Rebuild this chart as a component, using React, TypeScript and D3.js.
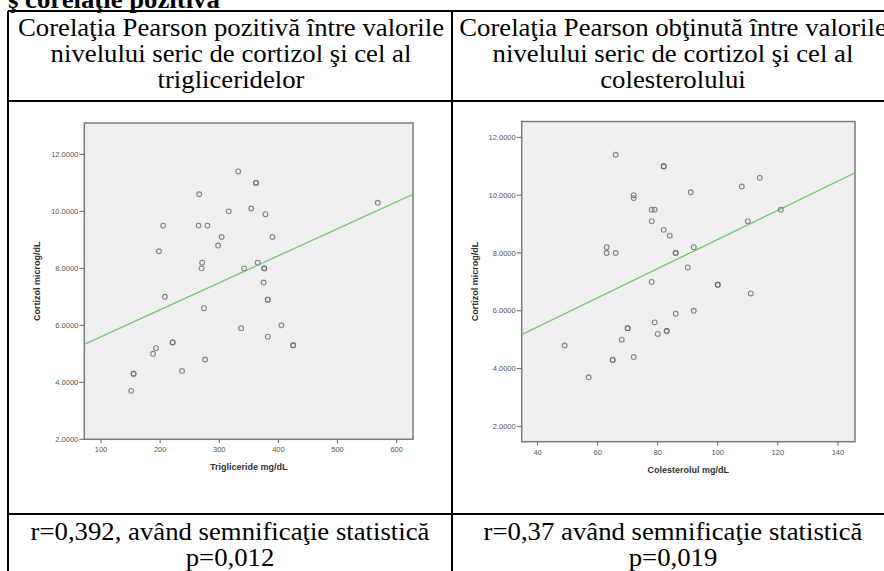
import React from "react";
import { scaleLinear, line } from "d3";

// Trigliceride (mg/dL) vs Cortizol (microg/dL)
const trigX = [332, 362, 362, 266, 316, 354, 378, 205, 265, 280, 304, 390, 298, 198, 271, 270, 342, 365, 376, 376, 375, 208, 382, 382, 274, 337, 405, 382, 425, 425, 221, 221, 193, 188, 276, 237, 155, 155, 151, 568];
const trigY = [11.4, 11.0, 11.0, 10.6, 10.0, 10.1, 9.9, 9.5, 9.5, 9.5, 9.1, 9.1, 8.8, 8.6, 8.2, 8.0, 8.0, 8.2, 8.0, 8.0, 7.5, 7.0, 6.9, 6.9, 6.6, 5.9, 6.0, 5.6, 5.3, 5.3, 5.4, 5.4, 5.2, 5.0, 4.8, 4.4, 4.3, 4.3, 3.7, 10.3];

// Colesterolul (mg/dL) vs Cortizol (microg/dL)
const colX = [66, 82, 82, 114, 108, 91, 72, 72, 78, 79, 121, 78, 110, 82, 84, 63, 63, 66, 86, 86, 92, 90, 78, 100, 100, 111, 86, 92, 79, 70, 70, 80, 83, 83, 68, 49, 65, 65, 72, 57];
const colY = [11.4, 11.0, 11.0, 10.6, 10.3, 10.1, 10.0, 9.9, 9.5, 9.5, 9.5, 9.1, 9.1, 8.8, 8.6, 8.2, 8.0, 8.0, 8.0, 8.0, 8.2, 7.5, 7.0, 6.9, 6.9, 6.6, 5.9, 6.0, 5.6, 5.4, 5.4, 5.2, 5.3, 5.3, 5.0, 4.8, 4.3, 4.3, 4.4, 3.7];

const yTicks = [2, 4, 6, 8, 10, 12];
const trigTicks = [100, 200, 300, 400, 500, 600];
const colTicks = [40, 60, 80, 100, 120, 140];

// linear fit lines
const trigFit = [4.65, 0.00948];
const colFit = [3.42, 0.0505];

const headerLeft = ["Corelaţia Pearson pozitivă între valorile", "nivelului seric de cortizol şi cel al", "trigliceridelor"];
const headerRight = ["Corelaţia Pearson obţinută între valorile", "nivelului seric de cortizol şi cel al", "colesterolului"];
const footLeft = ["r=0,392, având semnificaţie statistică", "p=0,012"];
const footRight = ["r=0,37 având semnificaţie statistică", "p=0,019"];

const serif = "'Liberation Serif', 'Times New Roman', serif";
const sans = "'Liberation Sans', Arial, sans-serif";

type PlotProps = {
  left: number; right: number; top: number; bottom: number;
  xDomain: number[]; yDomain: number[];
  xTicks: number[]; xs: number[]; ys: number[];
  fit: number[]; xLabel: string; yLabelX: number; xLabelY: number;
};

const Plot = (p: PlotProps) => {
  const x = scaleLinear().domain(p.xDomain).range([p.left, p.right]);
  const y = scaleLinear().domain(p.yDomain).range([p.bottom, p.top]);
  const fitLine = line<number>().x(d => x(d)).y(d => y(p.fit[0] + p.fit[1] * d));
  const clipId = "clip" + Math.round(p.left);
  return (
    <g>
      <defs>
        <clipPath id={clipId}>
          <rect x={p.left} y={p.top} width={p.right - p.left} height={p.bottom - p.top} />
        </clipPath>
      </defs>
      <rect x={p.left} y={p.top} width={p.right - p.left} height={p.bottom - p.top} fill="#efefef" stroke="#7a7a7a" strokeWidth={1.5} />
      {yTicks.map(t => (
        <g key={"y" + t}>
          <line x1={p.left - 5} x2={p.left} y1={y(t)} y2={y(t)} stroke="#666" strokeWidth={1} />
          <text x={p.left - 6} y={y(t)} dy="0.35em" textAnchor="end" fontSize={7.5} fill="#555" fontFamily={sans}>{t.toFixed(4)}</text>
        </g>
      ))}
      {p.xTicks.map(t => (
        <g key={"x" + t}>
          <line x1={x(t)} x2={x(t)} y1={p.bottom} y2={p.bottom + 4} stroke="#666" strokeWidth={1} />
          <text x={x(t)} y={p.bottom + 13} textAnchor="middle" fontSize={7.5} fill="#555" fontFamily={sans}>{t}</text>
        </g>
      ))}
      <path d={fitLine(p.xDomain) || ""} stroke="#76c776" strokeWidth={1.3} fill="none" clipPath={`url(#${clipId})`} />
      {p.xs.map((v, i) => (
        <circle key={i} cx={x(v)} cy={y(p.ys[i])} r={2.4} fill="none" stroke="#6a6a6a" strokeOpacity={0.8} strokeWidth={1.1} />
      ))}
      <text x={(p.left + p.right) / 2} y={p.xLabelY} textAnchor="middle" fontSize={9} fontWeight="bold" fill="#333" fontFamily={sans}>{p.xLabel}</text>
      <text transform={`translate(${p.yLabelX},${(p.top + p.bottom) / 2}) rotate(-90)`} textAnchor="middle" dy="0.35em" fontSize={9} fontWeight="bold" fill="#333" fontFamily={sans}>Cortizol microg/dL</text>
    </g>
  );
};

const Cell = ({ lines, cx, y0, step }: { lines: string[]; cx: number; y0: number; step: number }) => (
  <g>
    {lines.map((s, i) => (
      <text key={i} transform={`translate(${cx},${y0 + i * step}) scale(1.07,1)`} textAnchor="middle" fontSize={25} fill="#000" fontFamily={serif}>{s}</text>
    ))}
  </g>
);

const App = () => {
  return (
    <svg width={884} height={571} style={{ position: "absolute", left: 0, top: 0, background: "#fff" }}>
      <text transform="translate(8,8) scale(1.07,1)" fontSize={25} fontWeight="bold" fontFamily={serif}>ş corelaţie pozitivă</text>

      {/* table grid */}
      <g stroke="#000" strokeWidth={2}>
        <line x1={8} x2={884} y1={11} y2={11} />
        <line x1={8} x2={884} y1={101} y2={101} />
        <line x1={8} x2={884} y1={514} y2={514} />
        <line x1={8} x2={8} y1={11} y2={571} />
        <line x1={452} x2={452} y1={11} y2={571} />
      </g>

      <Cell lines={headerLeft} cx={231} y0={36} step={26} />
      <Cell lines={headerRight} cx={673} y0={36} step={26} />
      <Cell lines={footLeft} cx={230} y0={540} step={26} />
      <Cell lines={footRight} cx={673} y0={540} step={26} />

      <Plot left={84.3} right={413} top={123} bottom={439.3}
        xDomain={[71.7, 627.6]} yDomain={[2, 13.1]} xTicks={trigTicks}
        xs={trigX} ys={trigY} fit={trigFit} xLabel="Trigliceride mg/dL" yLabelX={37} xLabelY={470} />
      <Plot left={521.7} right={855} top={121.5} bottom={441.7}
        xDomain={[34.7, 145.7]} yDomain={[1.47, 12.55]} xTicks={colTicks}
        xs={colX} ys={colY} fit={colFit} xLabel="Colesterolul mg/dL" yLabelX={475} xLabelY={473} />
    </svg>
  );
};

export default App;
